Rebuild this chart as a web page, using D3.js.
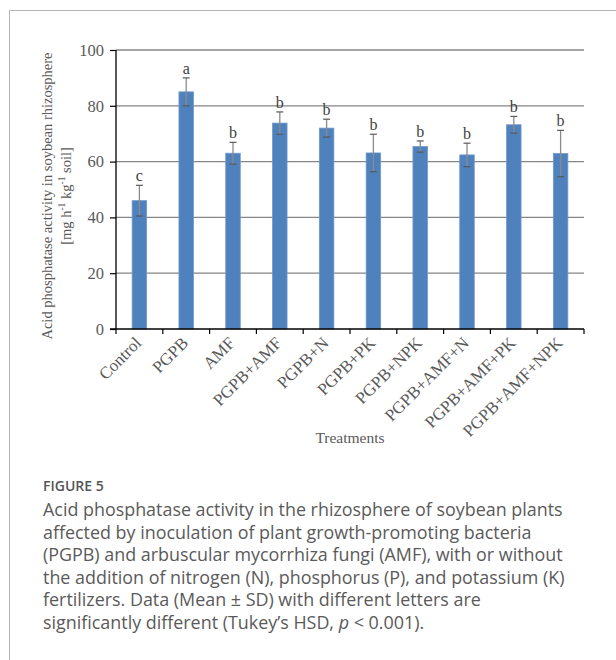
<!DOCTYPE html>
<html>
<head>
<meta charset="utf-8">
<script src="https://cdn.jsdelivr.net/npm/d3@7"></script>
<style>
  html, body { margin: 0; padding: 0; background: #fff; }
  svg { display: block; }
</style>
</head>
<body>
<svg id="chart" width="616" height="660"></svg>
<script>
// Treatments and measured acid phosphatase activity (mean ± SD)
const treatments = ["Control", "PGPB", "AMF", "PGPB+AMF", "PGPB+N", "PGPB+PK",
  "PGPB+NPK", "PGPB+AMF+N", "PGPB+AMF+PK", "PGPB+AMF+NPK"];
const means = [46.0, 85.0, 63.0, 73.8, 72.0, 63.1, 65.4, 62.4, 73.2, 62.9];
const sds = [5.5, 5.0, 3.9, 4.0, 3.2, 6.7, 2.0, 4.2, 3.0, 8.3];
const letters = ["c", "a", "b", "b", "b", "b", "b", "b", "b", "b"];
const yTicks = [0, 20, 40, 60, 80, 100];

const captionTitle = "FIGURE 5";
const captionLines = [
  "Acid phosphatase activity in the rhizosphere of soybean plants",
  "affected by inoculation of plant growth-promoting bacteria",
  "(PGPB) and arbuscular mycorrhiza fungi (AMF), with or without",
  "the addition of nitrogen (N), phosphorus (P), and potassium (K)",
  "fertilizers. Data (Mean \u00b1 SD) with different letters are",
  "significantly different (Tukey\u2019s HSD, p < 0.001)."
];

const svg = d3.select("#chart");
const serif = "'Liberation Serif', 'Times New Roman', serif";
const sans = "'Open Sans', 'Noto Sans', sans-serif";

// outer frame
svg.append("path")
  .attr("d", "M9.5,660 V10.5 H616")
  .attr("fill", "none").attr("stroke", "#b3b3b3").attr("stroke-width", 1);

const plot = { left: 116, right: 584, top: 50, bottom: 329 };

const x = d3.scaleBand().domain(treatments).range([plot.left, plot.right]).paddingInner(0).paddingOuter(0);
const y = d3.scaleLinear().domain([0, 100]).range([plot.bottom, plot.top]);
const barW = x.bandwidth() * 0.31;

// horizontal gridlines
svg.append("g").selectAll("line")
  .data(yTicks.filter(d => d > 0)).join("line")
  .attr("x1", plot.left).attr("x2", plot.right)
  .attr("y1", d => y(d)).attr("y2", d => y(d))
  .attr("stroke", "#868686").attr("stroke-width", 1.3);

// bars
svg.append("g").selectAll("rect")
  .data(treatments).join("rect")
  .attr("x", d => x(d) + (x.bandwidth() - barW) / 2)
  .attr("width", barW)
  .attr("y", (d, i) => y(means[i]))
  .attr("height", (d, i) => y(0) - y(means[i]))
  .attr("fill", "#4f81bd")
  .attr("stroke", "#6f98cb").attr("stroke-width", 0.8);

// error bars and significance letters
const eb = svg.append("g");
treatments.forEach((t, i) => {
  const cx = x(t) + x.bandwidth() / 2;
  const hi = y(means[i] + sds[i]), lo = y(means[i] - sds[i]);
  eb.append("line").attr("x1", cx).attr("x2", cx).attr("y1", hi).attr("y2", lo)
    .attr("stroke", "#8a8a8a").attr("stroke-width", 1.3);
  [hi, lo].forEach(v => eb.append("line")
    .attr("x1", cx - 3.5).attr("x2", cx + 3.5).attr("y1", v).attr("y2", v)
    .attr("stroke", "#595959").attr("stroke-width", 1.2));
  eb.append("text").attr("x", cx).attr("y", hi - 4)
    .attr("text-anchor", "middle")
    .attr("font-family", serif).attr("font-size", 16).attr("fill", "#404040")
    .text(letters[i]);
});

// y axis
const yAxis = svg.append("g").attr("transform", `translate(${plot.left},0)`)
  .call(d3.axisLeft(y).tickValues(yTicks).tickSize(6).tickPadding(6));
yAxis.select(".domain").attr("stroke", "#000").attr("stroke-width", 1.3).attr("d", `M0,${plot.top}V${plot.bottom}`);
yAxis.selectAll(".tick line").attr("stroke", "#000").attr("stroke-width", 1.2);
yAxis.selectAll(".tick text").attr("font-family", serif).attr("font-size", 16.5).attr("fill", "#595959");

// x axis with ticks at the category boundaries
const xAxisG = svg.append("g").attr("transform", `translate(0,${plot.bottom})`);
xAxisG.append("line").attr("x1", plot.left - 6).attr("x2", plot.right)
  .attr("stroke", "#000").attr("stroke-width", 1.3);
const bounds = treatments.map(t => x(t)).concat([plot.right]);
xAxisG.selectAll("line.tk").data(bounds).join("line").attr("class", "tk")
  .attr("x1", d => d).attr("x2", d => d).attr("y1", 0).attr("y2", 5)
  .attr("stroke", "#000").attr("stroke-width", 1.2);
xAxisG.selectAll("text").data(treatments).join("text")
  .attr("transform", d => `translate(${x(d) + x.bandwidth() / 2 + 3},${15}) rotate(-45)`)
  .attr("text-anchor", "end")
  .attr("font-family", serif).attr("font-size", 17).attr("fill", "#595959")
  .text(d => d);

// axis titles
svg.append("text")
  .attr("x", (plot.left + plot.right) / 2).attr("y", 443)
  .attr("text-anchor", "middle")
  .attr("font-family", serif).attr("font-size", 15.5).attr("fill", "#595959")
  .text("Treatments");

const yTitle = svg.append("text")
  .attr("transform", `translate(52,196) rotate(-90)`)
  .attr("text-anchor", "middle")
  .attr("font-family", serif).attr("font-size", 14.5).attr("fill", "#595959");
yTitle.append("tspan").attr("x", 0).attr("y", 0).text("Acid phosphatase activity in soybean rhizosphere");
const l2 = yTitle.append("tspan").attr("x", 0).attr("y", 19);
l2.append("tspan").text("[mg h");
l2.append("tspan").attr("font-size", 9.5).attr("dy", -6).text("-1");
l2.append("tspan").attr("dy", 6).text(" kg");
l2.append("tspan").attr("font-size", 9.5).attr("dy", -6).text("-1");
l2.append("tspan").attr("dy", 6).text(" soil]");

// caption
svg.append("text").attr("x", 43).attr("y", 491)
  .attr("font-family", sans).attr("font-size", 14).attr("font-weight", 600)
  .attr("fill", "#555").text(captionTitle);

const cap = svg.append("text").attr("font-family", sans).attr("font-size", 17.9)
  .attr("fill", "#5a5a5a");
captionLines.forEach((line, i) => {
  const t = cap.append("tspan").attr("x", 43).attr("y", 516 + i * 22.5);
  if (line.includes(" p < ")) {
    const [a, b] = line.split(" p ");
    t.append("tspan").text(a + " ");
    t.append("tspan").attr("font-style", "italic").text("p");
    t.append("tspan").text(" " + b);
  } else {
    t.text(line);
  }
});
</script>
</body>
</html>
